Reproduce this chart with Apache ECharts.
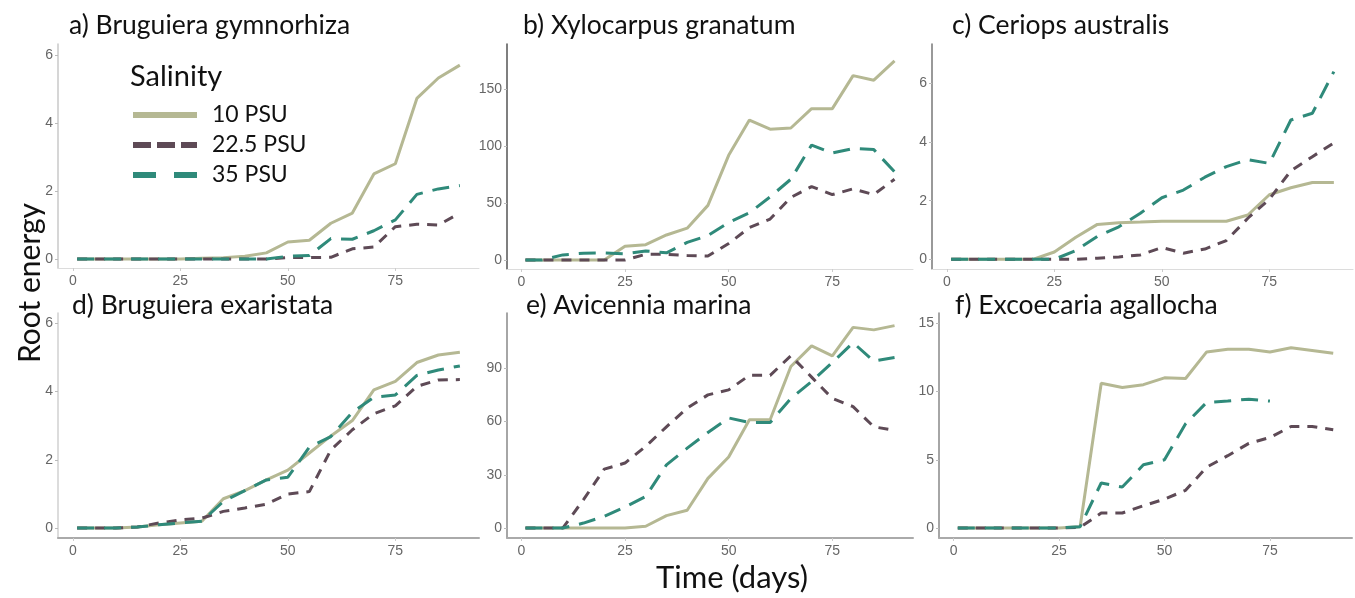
<!DOCTYPE html>
<html>
<head>
<meta charset="utf-8">
<script src="https://cdn.jsdelivr.net/npm/echarts@6/dist/echarts.min.js"></script>
<style>
  html, body { margin: 0; padding: 0; background: #fff; }
  #chart { width: 1355px; height: 598px; }
</style>
</head>
<body>
<div id="chart"></div>
<script>
// days of measurement
const days = [1, 5, 10, 15, 20, 25, 30, 35, 40, 45, 50, 55, 60, 65, 70, 75, 80, 85, 90];
const salinities = ['10 PSU', '22.5 PSU', '35 PSU'];

// a) Bruguiera gymnorhiza
const gym10  = [0, 0, 0, 0, 0, 0, 0.02, 0.04, 0.08, 0.18, 0.5, 0.55, 1.05, 1.35, 2.5, 2.8, 4.72, 5.32, 5.7];
const gym225 = [0, 0, 0, 0, 0, 0, 0, 0, 0, 0, 0.04, 0.04, 0.05, 0.3, 0.35, 0.95, 1.02, 1.0, 1.35];
const gym35  = [0, 0, 0, 0, 0, 0, 0, 0, 0, 0, 0.08, 0.1, 0.6, 0.58, 0.83, 1.15, 1.9, 2.06, 2.16];

// b) Xylocarpus granatum
const xyl10  = [0, 0, 0, 0, 0, 12, 13.5, 22, 28, 48, 92, 123, 115, 116, 133, 133, 162, 158, 175];
const xyl225 = [0, 0, 0, 0, 0, 0, 5, 5, 4, 3.5, 14.5, 28.5, 36, 55, 64.5, 57.5, 62.5, 57.5, 71];
const xyl35  = [0, 0, 4.5, 6, 6.2, 5.5, 8, 6.3, 15.5, 21.5, 33, 41.5, 55.5, 71, 101, 94, 98, 97, 77.5];

// c) Ceriops australis
const cer10  = [0, 0, 0, 0, 0, 0.25, 0.75, 1.19, 1.25, 1.27, 1.3, 1.3, 1.3, 1.3, 1.51, 2.2, 2.44, 2.62, 2.62];
const cer225 = [0, 0, 0, 0, 0, 0, 0, 0.04, 0.08, 0.15, 0.4, 0.21, 0.35, 0.64, 1.4, 2.05, 3.02, 3.5, 3.97];
const cer35  = [0, 0, 0, 0, 0, 0, 0.3, 0.78, 1.11, 1.57, 2.1, 2.36, 2.8, 3.16, 3.4, 3.27, 4.75, 4.98, 6.4];

// d) Bruguiera exaristata
const exa10  = [0, 0, 0, 0.03, 0.1, 0.15, 0.2, 0.86, 1.1, 1.41, 1.7, 2.2, 2.7, 3.15, 4.05, 4.3, 4.85, 5.07, 5.15];
const exa225 = [0, 0, 0, 0.03, 0.15, 0.24, 0.29, 0.49, 0.59, 0.7, 1.0, 1.07, 2.29, 2.88, 3.35, 3.58, 4.15, 4.34, 4.35];
const exa35  = [0, 0, 0, 0.03, 0.1, 0.15, 0.2, 0.78, 1.1, 1.41, 1.49, 2.37, 2.68, 3.39, 3.83, 3.9, 4.47, 4.63, 4.75];

// e) Avicennia marina
const avi10  = [0, 0, 0, 0, 0, 0, 1, 7, 10, 28, 40, 61, 61, 91, 102.6, 97, 113, 111.6, 114];
const avi225 = [0, 0, 0, 16, 33.2, 36.6, 46, 57, 67.5, 75, 77.8, 86, 86, 97, 85, 73, 68.4, 57, 55];
const avi35  = [0, 0, 0, 2.8, 6.6, 11.8, 17.8, 35.6, 45, 53.8, 62, 59.4, 59.4, 73, 82.5, 93.2, 104.4, 94, 96];

// f) Excoecaria agallocha
const exc10  = [0, 0, 0, 0, 0, 0, 0.1, 10.6, 10.3, 10.5, 11.0, 10.95, 12.9, 13.1, 13.1, 12.9, 13.2, 13.0, 12.8];
const exc225 = [0, 0, 0, 0, 0, 0, 0.05, 1.1, 1.1, 1.63, 2.12, 2.76, 4.46, 5.3, 6.2, 6.63, 7.44, 7.44, 7.2];
const exc35  = [0, 0, 0, 0, 0, 0, 0.1, 3.3, 3.0, 4.63, 5.0, 7.63, 9.2, 9.3, 9.44, 9.3, null, null, null];

const xTicks = [0, 25, 50, 75];

// panel layout: title, data, y range, y tick values
const panels = [
  { title: 'a) Bruguiera gymnorhiza', data: [gym10, gym225, gym35], ymin: -0.265, ymax: 6.32, yticks: [0, 2, 4, 6],
    grid: { left: 58, top: 44, width: 421, height: 224 }, yColor: '#c8c8c8', xColor: '#dcdcdc', xWidth: 1, tx: 69, ty: 25 },
  { title: 'b) Xylocarpus granatum', data: [xyl10, xyl225, xyl35], ymin: -7.9, ymax: 189.8, yticks: [0, 50, 100, 150],
    grid: { left: 507, top: 44, width: 406, height: 225 }, yColor: '#555', xColor: '#dcdcdc', xWidth: 1, tx: 523, ty: 25 },
  { title: 'c) Ceriops australis', data: [cer10, cer225, cer35], ymin: -0.33, ymax: 7.34, yticks: [0, 2, 4, 6],
    grid: { left: 932, top: 44, width: 421, height: 225 }, yColor: '#777', xColor: '#dcdcdc', xWidth: 1, tx: 952, ty: 25 },
  { title: 'd) Bruguiera exaristata', data: [exa10, exa225, exa35], ymin: -0.29, ymax: 6.3, yticks: [0, 2, 4, 6],
    grid: { left: 58, top: 313, width: 421, height: 225 }, yColor: '#d0d0d0', xColor: '#aaa', xWidth: 2, tx: 72, ty: 305 },
  { title: 'e) Avicennia marina', data: [avi10, avi225, avi35], ymin: -5.6, ymax: 121.1, yticks: [0, 30, 60, 90],
    grid: { left: 507, top: 313, width: 406, height: 225 }, yColor: '#888', xColor: '#aaa', xWidth: 2, tx: 526, ty: 305 },
  { title: 'f) Excoecaria agallocha', data: [exc10, exc225, exc35], ymin: -0.73, ymax: 15.75, yticks: [0, 5, 10, 15],
    grid: { left: 939, top: 313, width: 413, height: 225 }, yColor: '#888', xColor: '#aaa', xWidth: 2, tx: 955, ty: 305 }
];

const colors = ['#b5b893', '#5e4a56', '#2f8a7a'];
const dashes = ['solid', [10, 8], [17, 10]];
const textFont = 'Lato, "Open Sans", sans-serif';
const tickFont = '"Liberation Sans", Arial, sans-serif';

const grids = [], xAxes = [], yAxes = [], series = [], graphics = [];

panels.forEach((p, i) => {
  grids.push(Object.assign({}, p.grid));
  xAxes.push({
    type: 'value', gridIndex: i, min: -3.45, max: 94.45,
    splitLine: { show: false },
    axisLine: { show: true, onZero: false, lineStyle: { color: p.xColor, width: p.xWidth } },
    axisTick: { show: true, length: 3, customValues: xTicks, lineStyle: { color: '#ccc' } },
    axisLabel: { customValues: xTicks, color: '#666', fontSize: 14, fontFamily: tickFont, margin: 6 }
  });
  yAxes.push({
    type: 'value', gridIndex: i, min: p.ymin, max: p.ymax,
    splitLine: { show: false },
    axisLine: { show: true, onZero: false, lineStyle: { color: p.yColor, width: 1.5 } },
    axisTick: { show: true, length: 3, customValues: p.yticks, lineStyle: { color: '#bbb' } },
    axisLabel: { customValues: p.yticks, color: '#666', fontSize: 14, fontFamily: tickFont, margin: 5 }
  });
  p.data.forEach((vals, k) => {
    series.push({
      name: salinities[k], type: 'line', xAxisIndex: i, yAxisIndex: i,
      data: days.map((d, j) => [d, vals[j]]),
      showSymbol: false, symbol: 'none', connectNulls: false, silent: true,
      lineStyle: { color: colors[k], width: 3, type: dashes[k] },
      itemStyle: { color: colors[k] },
      z: 2 + k
    });
  });
  graphics.push({
    type: 'text', x: p.tx, y: p.ty,
    style: { text: p.title, font: '26.5px ' + textFont, fill: '#111', textVerticalAlign: 'middle' }
  });
});

graphics.push({
  type: 'text', x: 130, y: 77,
  style: { text: 'Salinity', font: '29px ' + textFont, fill: '#111', textVerticalAlign: 'middle' }
});
graphics.push({
  type: 'text', x: 30, y: 283, rotation: Math.PI / 2,
  style: { text: 'Root energy', font: '30px ' + textFont, fill: '#111', textAlign: 'center', textVerticalAlign: 'middle' }
});
graphics.push({
  type: 'text', x: 732, y: 578,
  style: { text: 'Time (days)', font: '31px ' + textFont, fill: '#111', textAlign: 'center', textVerticalAlign: 'middle' }
});

const chart = echarts.init(document.getElementById('chart'), null, { renderer: 'canvas' });
chart.setOption({
  animation: false,
  backgroundColor: '#fff',
  grid: grids,
  xAxis: xAxes,
  yAxis: yAxes,
  series: series,
  legend: {
    left: 130, top: 102, orient: 'vertical', padding: 0,
    itemWidth: 64, itemHeight: 14, itemGap: 4,
    selectedMode: false,
    data: [
      { name: '10 PSU', itemStyle: { opacity: 0 }, lineStyle: { width: 6, type: 'solid' } },
      { name: '22.5 PSU', itemStyle: { opacity: 0 }, lineStyle: { width: 6, type: [18, 6] } },
      { name: '35 PSU', itemStyle: { opacity: 0 }, lineStyle: { width: 6, type: [23, 18] } }
    ],
    textStyle: { fontSize: 23, lineHeight: 26, fontFamily: textFont, color: '#111', padding: [0, 0, 0, 10] }
  },
  graphic: graphics
});
</script>
</body>
</html>
